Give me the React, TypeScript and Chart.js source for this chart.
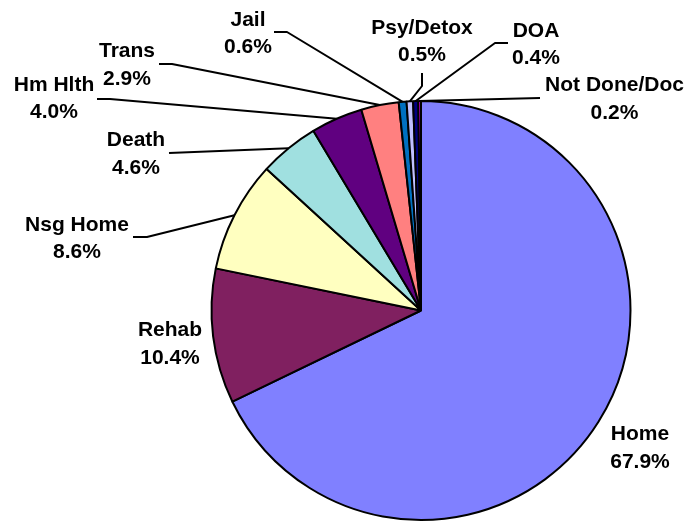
import React, { useEffect, useRef } from "react";
import { Chart, registerables } from "chart.js";

Chart.register(...registerables);

const categories = ["Home", "Rehab", "Nsg Home", "Death", "Hm Hlth", "Trans", "Jail", "Psy/Detox", "DOA", "Not Done/Doc"];
const percents = [67.9, 10.4, 8.6, 4.6, 4.0, 2.9, 0.6, 0.5, 0.4, 0.2];
const percentLabels = ["67.9%", "10.4%", "8.6%", "4.6%", "4.0%", "2.9%", "0.6%", "0.5%", "0.4%", "0.2%"];
const sliceColors = ["#8080FF", "#802060", "#FFFFC0", "#A0E0E0", "#600080", "#FF8080", "#0070C0", "#C0C0FF", "#000080", "#FF00FF"];

// label layout: text centre x, cap-centre y of first line, leader polyline start points
const labelLayout: { x: number; y: number; lead: number[][] }[] = [
  { x: 640, y: 432.5, lead: [] },
  { x: 170, y: 328.5, lead: [] },
  { x: 77, y: 223, lead: [[133, 237], [147, 237]] },
  { x: 136, y: 138.5, lead: [[169, 153]] },
  { x: 54, y: 83, lead: [[97, 99], [110, 99]] },
  { x: 127, y: 49.5, lead: [[159, 64], [172, 64]] },
  { x: 248, y: 18, lead: [[274, 32], [287, 32]] },
  { x: 422, y: 26, lead: [[422, 73], [422, 86]] },
  { x: 536, y: 29, lead: [[508, 43], [495, 43]] },
  { x: 614.5, y: 83.5, lead: [[540, 98]] },
];

const labelPlugin = {
  id: "pieLabels",
  afterDatasetsDraw(chart: any) {
    const ctx = chart.ctx;
    const meta = chart.getDatasetMeta(0);
    ctx.save();
    ctx.strokeStyle = "#000";
    ctx.lineWidth = 2;
    ctx.lineJoin = "round";
    meta.data.forEach((arc: any, i: number) => {
      const lay = labelLayout[i];
      if (lay.lead.length) {
        const p = arc.getProps(["x", "y", "startAngle", "endAngle", "outerRadius"], true);
        const mid = (p.startAngle + p.endAngle) / 2;
        const ex = p.x + Math.cos(mid) * p.outerRadius;
        const ey = p.y + Math.sin(mid) * p.outerRadius;
        ctx.beginPath();
        ctx.moveTo(lay.lead[0][0], lay.lead[0][1]);
        for (let k = 1; k < lay.lead.length; k++) ctx.lineTo(lay.lead[k][0], lay.lead[k][1]);
        ctx.lineTo(ex, ey);
        ctx.stroke();
      }
    });
    ctx.fillStyle = "#000";
    ctx.font = "bold 21px 'Liberation Sans', Arial, sans-serif";
    ctx.textAlign = "center";
    ctx.textBaseline = "alphabetic";
    categories.forEach((name, i) => {
      const lay = labelLayout[i];
      ctx.fillText(name, lay.x, lay.y + 7.5);
      ctx.fillText(percentLabels[i], lay.x, lay.y + 7.5 + 27.5);
    });
    ctx.restore();
  },
};

export default function App() {
  const ref = useRef<HTMLCanvasElement>(null);
  useEffect(() => {
    if (!ref.current) return;
    const chart = new Chart(ref.current, {
      type: "pie",
      data: {
        labels: categories,
        datasets: [
          {
            data: percents,
            backgroundColor: sliceColors,
            borderColor: "#000",
            borderWidth: 2,
          },
        ],
      },
      options: {
        responsive: false,
        animation: false,
        layout: { padding: { left: 210, top: 100, right: 55, bottom: 3 } },
        plugins: { legend: { display: false }, tooltip: { enabled: false } },
      },
      plugins: [labelPlugin],
    });
    return () => chart.destroy();
  }, []);
  return (
    <div style={{ position: "absolute", left: 0, top: 0, width: 687, height: 524, background: "#fff" }}>
      <canvas ref={ref} width={687} height={524} style={{ display: "block" }} />
    </div>
  );
}
